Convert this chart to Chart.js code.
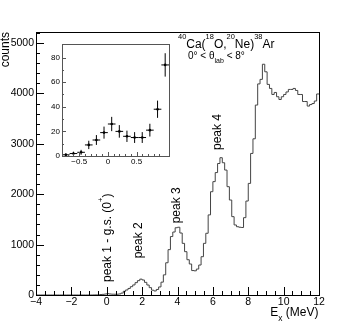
<!DOCTYPE html>
<html lang="en">
<head>
<meta charset="UTF-8">
<title>40Ca(18O,20Ne)38Ar</title>
<script src="https://cdn.jsdelivr.net/npm/chart.js@4.4.1/dist/chart.umd.min.js"></script>
<style>
    html, body { margin: 0; padding: 0; background: #fff; }
    #wrap { position: relative; width: 355px; height: 328px; }
    #main_chart { position: absolute; left: 0; top: 0; }
    #inset_chart { position: absolute; left: 36px; top: 36px; }
</style>
</head>
<body>
<div id="wrap">
    <canvas id="main_chart" width="355" height="328"></canvas>
    <canvas id="inset_chart" width="140" height="132"></canvas>
</div>
<script>
    const FONT = '"Liberation Sans", Arial, Helvetica, sans-serif';

    // main spectrum: 120 bins between -4 and 12 MeV
    const binLow = -4;
    const binHigh = 12;
    const counts = [
        // -4 .. -0.8 MeV
        0, 0, 0, 0, 0, 0, 0, 0, 0, 0, 0, 0, 0, 0, 0, 0, 0, 0, 0, 0, 0, 0, 0, 0,
        // -0.8 .. 1.07 MeV (the inset region)
        1, 2, 3, 9, 13, 19, 26, 20, 16, 15, 15, 21, 38, 74,
        // peak 2
        100, 130, 165, 200, 245, 285, 315, 298, 251, 198, 146, 95, 80, 110, 160,
        // peak 3
        255, 400, 640, 900, 1160, 1250, 1335, 1345, 1230, 1025, 860, 700, 615, 485, 480, 515, 595,
        // peak 4
        760, 1025, 1225, 1590, 2050, 2250, 2430, 2610, 2725, 2625, 2480, 2150, 1885, 1555, 1390, 1355, 1345, 1340,
        // above 7.7 MeV
        1535, 1865, 2215, 2810, 3100, 3770, 4190, 4280, 4580, 4430, 4180, 4100, 3980, 4020, 3935, 3880,
        3935, 3980, 4030, 4080, 4080, 4100, 4060, 3980, 3980, 3840, 3840, 3750, 3780, 3800, 3850, 3990
    ];
    const countsMax = 5220;
    const countsStep = 200;   // minor tick step, labels every 1000

    // inset: zoom of the ground state region
    const insetE = [-0.733, -0.6, -0.467, -0.333, -0.2, -0.067, 0.067, 0.2, 0.333, 0.467, 0.6, 0.733, 0.867, 1.0];
    const insetCounts = [1, 2, 3, 9, 13, 19, 26, 20, 16, 15, 15, 21, 38, 74];
    const insetErr = [1.2, 1.5, 2, 3.4, 4, 4.9, 5.8, 5.1, 4.6, 4.4, 4.4, 5.2, 7, 9.5];

    // peak labels (E in MeV, counts where the label starts)
    const peakLabels = ['peak 1 - g.s. (0^{+})', 'peak 2', 'peak 3', 'peak 4'];
    const peakLabelE = [0.26, 1.98, 4.13, 6.45];
    const peakLabelY = [258, 728, 1423, 2878];

    const binWidth = (binHigh - binLow) / counts.length;
    const histPoints = counts.map((c, i) => ({x: binLow + i * binWidth, y: c}));
    histPoints.push({x: binHigh, y: counts[counts.length - 1]});

    function isMultiple(v, step) {
        return Math.abs(v / step - Math.round(v / step)) < 1e-6;
    }

    function fmtNum(v) {
        if (Math.abs(v) < 1e-9) return '0';
        return (v < 0 ? '\u2212' : '') + String(+Math.abs(v).toFixed(2));
    }

    // tiny ROOT-like latex: ^{..} superscript, _{..} subscript
    function latexParts(str) {
        const parts = [];
        const re = /([\^_])\{([^}]*)\}/g;
        let last = 0, m;
        while ((m = re.exec(str))) {
            if (m.index > last) parts.push({text: str.slice(last, m.index), kind: 'n'});
            parts.push({text: m[2], kind: m[1] === '^' ? 'sup' : 'sub'});
            last = re.lastIndex;
        }
        if (last < str.length) parts.push({text: str.slice(last), kind: 'n'});
        return parts;
    }

    function drawLatex(ctx, str, x, y, size, align) {
        const parts = latexParts(str);
        const fontFor = k => (k === 'n' ? size : k === 'sup' ? size * 0.62 : size * 0.7) + 'px ' + FONT;
        let total = 0;
        parts.forEach(p => {
            ctx.font = fontFor(p.kind);
            p.w = ctx.measureText(p.text).width;
            total += p.w;
        });
        let cx = align === 'right' ? x - total : x;
        ctx.textAlign = 'left';
        ctx.textBaseline = 'alphabetic';
        parts.forEach(p => {
            ctx.font = fontFor(p.kind);
            const dy = p.kind === 'sup' ? -size * 0.67 : p.kind === 'sub' ? size * 0.4 : 0;
            ctx.fillText(p.text, cx, y + dy);
            cx += p.w;
        });
    }

    // frame and inward pointing ticks, like ROOT
    function drawFrameAndTicks(chart, o) {
        const {ctx, chartArea: a, scales: {x, y}} = chart;
        ctx.save();
        ctx.strokeStyle = o.color;
        ctx.lineWidth = 1;
        ctx.beginPath();
        x.ticks.forEach(t => {
            if (!isMultiple(t.value, o.xStep)) return;
            const px = Math.round(x.getPixelForValue(t.value)) + 0.5;
            const len = t.label !== '' ? o.major : o.minor;
            ctx.moveTo(px, a.bottom);
            ctx.lineTo(px, a.bottom - len);
        });
        y.ticks.forEach(t => {
            if (!isMultiple(t.value, o.yStep)) return;
            const py = Math.round(y.getPixelForValue(t.value)) + 0.5;
            const len = t.label !== '' ? o.major : o.minor;
            ctx.moveTo(a.left, py);
            ctx.lineTo(a.left + len, py);
        });
        ctx.stroke();
        ctx.strokeRect(Math.round(a.left) + 0.5, Math.round(a.top) + 0.5,
            Math.round(a.right - a.left), Math.round(a.bottom - a.top));
        ctx.restore();
    }

    const mainDecor = {
        id: 'mainDecor',
        afterDraw(chart) {
            const {ctx, scales: {x, y}} = chart;
            drawFrameAndTicks(chart, {color: '#000', xStep: 0.5, yStep: countsStep, major: 8, minor: 4});
            ctx.save();
            ctx.fillStyle = '#000';
            drawLatex(ctx, '^{40}Ca(^{18}O,^{20}Ne)^{38}Ar', 178, 47.5, 12);
            drawLatex(ctx, '0\u00b0 < \u03b8_{lab} < 8\u00b0', 188, 58.5, 10);
            drawLatex(ctx, 'E_{x} (MeV)', 318.5, 316, 12, 'right');
            peakLabels.forEach((label, i) => {
                ctx.save();
                ctx.translate(x.getPixelForValue(peakLabelE[i]), y.getPixelForValue(peakLabelY[i]));
                ctx.rotate(-Math.PI / 2);
                drawLatex(ctx, label, 0, 0, 12);
                ctx.restore();
            });
            ctx.restore();
        }
    };

    const errorBars = {
        id: 'errorBars',
        afterDatasetsDraw(chart) {
            const {ctx, scales: {x, y}} = chart;
            ctx.save();
            ctx.strokeStyle = '#000';
            ctx.lineWidth = 1;
            ctx.beginPath();
            insetE.forEach((e, i) => {
                const px = x.getPixelForValue(e);
                const py = y.getPixelForValue(insetCounts[i]);
                ctx.moveTo(px, y.getPixelForValue(insetCounts[i] - insetErr[i]));
                ctx.lineTo(px, y.getPixelForValue(insetCounts[i] + insetErr[i]));
                ctx.moveTo(x.getPixelForValue(e - binWidth / 2), py);
                ctx.lineTo(x.getPixelForValue(e + binWidth / 2), py);
            });
            ctx.stroke();
            ctx.restore();
        },
        afterDraw(chart) {
            drawFrameAndTicks(chart, {color: '#555', xStep: 0.1, yStep: 10, major: 4, minor: 2});
        }
    };

    const noGrid = {display: false, drawTicks: false};

    const mainChart = new Chart(document.getElementById('main_chart'), {
        type: 'line',
        data: {
            datasets: [{
                data: histPoints,
                stepped: 'before',
                borderColor: '#444',
                borderWidth: 1,
                pointRadius: 0,
                fill: false
            }]
        },
        options: {
            responsive: false,
            animation: false,
            events: [],
            layout: {padding: {top: 32, right: 36, left: 0, bottom: 0}},
            plugins: {legend: {display: false}, tooltip: {enabled: false}},
            scales: {
                x: {
                    type: 'linear', min: binLow, max: binHigh,
                    grid: noGrid, border: {display: false},
                    ticks: {
                        stepSize: 0.5, autoSkip: false, maxRotation: 0, padding: 1,
                        color: '#000', font: {family: FONT, size: 10.5},
                        callback: v => isMultiple(v, 2) ? fmtNum(v) : ''
                    },
                    afterFit: s => { s.height = 33; }
                },
                y: {
                    type: 'linear', min: 0, max: countsMax,
                    grid: noGrid, border: {display: false},
                    ticks: {
                        autoSkip: false, padding: 2,
                        color: '#000', font: {family: FONT, size: 10.5},
                        callback: v => isMultiple(v, 1000) ? String(v) : ''
                    },
                    // Chart.js would stretch the step to fit max exactly, so list the ticks
                    afterBuildTicks: s => {
                        const ticks = [];
                        for (let v = 0; v <= countsMax; v += countsStep) ticks.push({value: v});
                        s.ticks = ticks;
                    },
                    title: {
                        display: true, text: 'counts', align: 'end', color: '#000',
                        font: {family: FONT, size: 12}, padding: {top: -2, bottom: 0}
                    },
                    afterFit: s => { s.width = 36; }
                }
            }
        },
        plugins: [mainDecor]
    });

    const insetChart = new Chart(document.getElementById('inset_chart'), {
        type: 'scatter',
        data: {
            datasets: [{
                data: insetE.map((e, i) => ({x: e, y: insetCounts[i]})),
                pointRadius: 1.3,
                pointBackgroundColor: '#000',
                pointBorderWidth: 0,
                showLine: false
            }]
        },
        options: {
            responsive: false,
            animation: false,
            events: [],
            layout: {padding: {top: 8, right: 7, left: 0, bottom: 0}},
            plugins: {legend: {display: false}, tooltip: {enabled: false}},
            scales: {
                x: {
                    type: 'linear', min: -0.8, max: 1.0667,
                    grid: noGrid, border: {display: false},
                    ticks: {
                        stepSize: 0.1, autoSkip: false, maxRotation: 0, padding: 1,
                        color: '#000', font: {family: FONT, size: 8},
                        callback: v => isMultiple(v, 0.5) ? fmtNum(v) : ''
                    },
                    afterFit: s => { s.height = 12; }
                },
                y: {
                    type: 'linear', min: 0, max: 91,
                    grid: noGrid, border: {display: false},
                    ticks: {
                        stepSize: 10, autoSkip: false, padding: 2,
                        color: '#000', font: {family: FONT, size: 8},
                        callback: v => isMultiple(v, 20) ? String(v) : ''
                    },
                    afterFit: s => { s.width = 26; }
                }
            }
        },
        plugins: [errorBars]
    });
</script>
</body>
</html>
